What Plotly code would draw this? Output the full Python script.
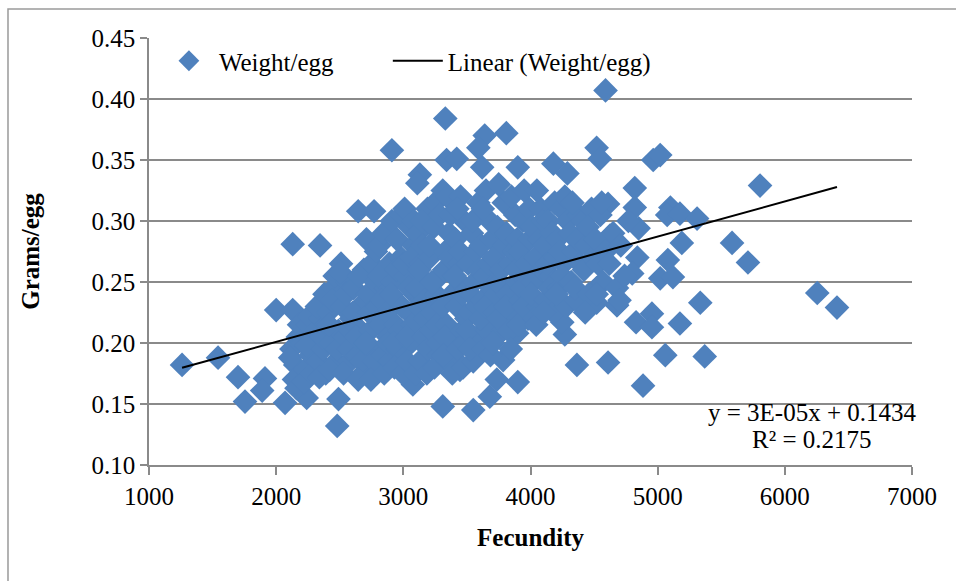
import plotly.graph_objects as go

# ---- data (Fecundity, Grams/egg) ----
outlier_x = [1260, 1543, 1700, 1755, 1912, 1890, 2070, 2000, 2130, 2480, 2490, 2240,
             2130, 2345, 2910, 2645, 2770, 3330, 3640, 3810, 3590, 3340, 3420, 3620,
             3900, 4520, 4545, 4180, 4290, 3130, 3110, 4590, 4965, 5020, 5805, 4820,
             4610, 4820, 5100, 5075, 5175, 5310, 4850, 4625, 5190, 5585, 5710, 4840,
             5080, 5020, 5120, 4800, 6255, 6410, 5335, 4955, 5175, 4830, 4955, 5060,
             5370, 4610, 4885, 4680, 4365, 3310, 3550, 3680, 3735, 3900, 3785, 3580,
             3075, 3445, 3895, 4270, 4250, 4520, 4680, 4520]
outlier_y = [0.182, 0.188, 0.172, 0.152, 0.171, 0.161, 0.151, 0.227, 0.227, 0.132, 0.154, 0.155,
             0.281, 0.280, 0.358, 0.308, 0.308, 0.384, 0.370, 0.372, 0.360, 0.350, 0.351, 0.344,
             0.344, 0.360, 0.351, 0.347, 0.339, 0.338, 0.331, 0.407, 0.350, 0.354, 0.329, 0.327,
             0.314, 0.311, 0.311, 0.305, 0.306, 0.302, 0.294, 0.288, 0.282, 0.282, 0.266, 0.270,
             0.268, 0.253, 0.254, 0.257, 0.241, 0.229, 0.233, 0.224, 0.216, 0.217, 0.213, 0.190,
             0.189, 0.184, 0.165, 0.231, 0.182, 0.148, 0.145, 0.156, 0.170, 0.168, 0.186, 0.193,
             0.166, 0.178, 0.208, 0.207, 0.217, 0.233, 0.231, 0.245]

cloud_x = [2120, 2150, 2170, 2140, 2180, 2110, 2160,
           2210, 2230, 2250, 2270, 2290, 2220, 2260, 2280, 2240,
           2310, 2330, 2350, 2370, 2390, 2320, 2360, 2380, 2340, 2395,
           2410, 2430, 2450, 2470, 2490, 2420, 2440, 2460, 2480, 2415,
           2510, 2520, 2540, 2560, 2580, 2590, 2530, 2550, 2570, 2505, 2585,
           2610, 2620, 2640, 2660, 2680, 2690, 2630, 2650, 2670, 2605, 2695, 2645,
           2710, 2720, 2740, 2760, 2780, 2790, 2730, 2750, 2770, 2705, 2795, 2745, 2785,
           2810, 2820, 2840, 2860, 2880, 2890, 2830, 2850, 2870, 2805, 2895, 2845, 2875,
           2910, 2920, 2940, 2960, 2980, 2990, 2930, 2950, 2970, 2905, 2995, 2945, 2985, 2925,
           3010, 3020, 3040, 3060, 3080, 3090, 3030, 3050, 3070, 3005, 3095, 3045, 3085, 3025, 3065,
           3110, 3120, 3140, 3160, 3180, 3190, 3130, 3150, 3170, 3105, 3195, 3145, 3185, 3125, 3165,
           3210, 3220, 3240, 3260, 3280, 3290, 3230, 3250, 3270, 3205, 3295, 3245, 3285, 3225, 3265,
           3310, 3320, 3340, 3360, 3380, 3390, 3330, 3350, 3370, 3305, 3395, 3345, 3385, 3325, 3365, 3315,
           3410, 3420, 3440, 3460, 3480, 3490, 3430, 3450, 3470, 3405, 3495, 3445, 3485, 3425, 3465,
           3510, 3520, 3540, 3560, 3580, 3590, 3530, 3550, 3570, 3505, 3595, 3545, 3585, 3525,
           3610, 3620, 3640, 3660, 3680, 3690, 3630, 3650, 3670, 3605, 3695, 3645, 3685, 3625,
           3710, 3720, 3740, 3760, 3780, 3790, 3730, 3750, 3770, 3705, 3795, 3745, 3785,
           3810, 3820, 3840, 3860, 3880, 3890, 3830, 3850, 3870, 3805, 3895, 3845, 3885,
           3910, 3920, 3940, 3960, 3980, 3990, 3930, 3950, 3970, 3905, 3995, 3945,
           4010, 4020, 4040, 4060, 4080, 4090, 4030, 4050, 4070, 4005, 4095, 4045,
           4110, 4120, 4140, 4160, 4180, 4190, 4130, 4150, 4170, 4105, 4195,
           4210, 4220, 4240, 4260, 4280, 4290, 4230, 4250, 4270, 4205,
           4310, 4320, 4340, 4360, 4380, 4390, 4330, 4350, 4370,
           4410, 4420, 4440, 4460, 4480, 4490, 4430, 4450,
           4510, 4530, 4550, 4570, 4590, 4520, 4560,
           4620, 4650, 4680, 4710, 4740, 4770, 4700]
cloud_y = [0.195, 0.182, 0.205, 0.170, 0.215, 0.188, 0.163,
           0.200, 0.178, 0.215, 0.190, 0.205, 0.168, 0.222, 0.175, 0.198,
           0.210, 0.185, 0.220, 0.195, 0.175, 0.230, 0.205, 0.240, 0.172, 0.215,
           0.225, 0.200, 0.245, 0.185, 0.210, 0.178, 0.235, 0.255, 0.195, 0.215,
           0.265, 0.230, 0.205, 0.250, 0.185, 0.220, 0.175, 0.240, 0.195, 0.258, 0.210,
           0.245, 0.215, 0.190, 0.230, 0.175, 0.260, 0.205, 0.255, 0.185, 0.225, 0.200, 0.170,
           0.285, 0.240, 0.210, 0.195, 0.250, 0.175, 0.225, 0.265, 0.185, 0.200, 0.230, 0.170, 0.275,
           0.280, 0.215, 0.190, 0.245, 0.205, 0.265, 0.235, 0.175, 0.225, 0.255, 0.185, 0.290, 0.200,
           0.300, 0.250, 0.215, 0.195, 0.270, 0.230, 0.180, 0.285, 0.210, 0.240, 0.175, 0.260, 0.305, 0.200,
           0.310, 0.255, 0.225, 0.200, 0.280, 0.240, 0.185, 0.295, 0.215, 0.265, 0.175, 0.245, 0.300, 0.205, 0.270,
           0.290, 0.230, 0.265, 0.205, 0.250, 0.310, 0.185, 0.280, 0.220, 0.245, 0.195, 0.300, 0.175, 0.260, 0.235,
           0.270, 0.210, 0.295, 0.240, 0.190, 0.255, 0.225, 0.315, 0.200, 0.280, 0.235, 0.180, 0.305, 0.250, 0.215,
           0.325, 0.260, 0.215, 0.290, 0.240, 0.200, 0.275, 0.185, 0.305, 0.230, 0.255, 0.320, 0.175, 0.205, 0.270, 0.190,
           0.285, 0.230, 0.265, 0.210, 0.300, 0.245, 0.195, 0.320, 0.180, 0.255, 0.220, 0.275, 0.200, 0.310, 0.240,
           0.265, 0.225, 0.290, 0.250, 0.205, 0.315, 0.240, 0.185, 0.275, 0.210, 0.260, 0.300, 0.230, 0.195,
           0.280, 0.235, 0.255, 0.210, 0.300, 0.245, 0.195, 0.325, 0.265, 0.220, 0.285, 0.230, 0.190, 0.310,
           0.270, 0.225, 0.295, 0.250, 0.210, 0.315, 0.240, 0.330, 0.260, 0.200, 0.280, 0.220, 0.245,
           0.290, 0.240, 0.265, 0.225, 0.305, 0.250, 0.210, 0.320, 0.275, 0.230, 0.285, 0.195, 0.260,
           0.275, 0.235, 0.300, 0.255, 0.220, 0.310, 0.245, 0.325, 0.265, 0.215, 0.285, 0.230,
           0.295, 0.250, 0.270, 0.230, 0.310, 0.260, 0.220, 0.325, 0.285, 0.240, 0.300, 0.215,
           0.280, 0.235, 0.300, 0.255, 0.225, 0.315, 0.265, 0.245, 0.290, 0.225, 0.270,
           0.285, 0.245, 0.310, 0.265, 0.230, 0.300, 0.275, 0.255, 0.320, 0.240,
           0.290, 0.250, 0.275, 0.235, 0.305, 0.265, 0.315, 0.245, 0.285,
           0.300, 0.260, 0.280, 0.240, 0.310, 0.270, 0.225, 0.295,
           0.285, 0.265, 0.305, 0.250, 0.275, 0.240, 0.315,
           0.265, 0.290, 0.245, 0.280, 0.255, 0.300, 0.235]

fecundity = outlier_x + cloud_x
weight = outlier_y + cloud_y

# trendline as shown on the chart (y = 3E-05x + 0.1434, R² = 0.2175)
trend_slope = 2.877e-5
trend_intercept = 0.1434
trend_x = [min(fecundity), max(fecundity)]
trend_y = [trend_slope * v + trend_intercept for v in trend_x]

x_ticks = [1000, 2000, 3000, 4000, 5000, 6000, 7000]
y_ticks = [0.10, 0.15, 0.20, 0.25, 0.30, 0.35, 0.40, 0.45]

FONT = "Liberation Serif"
GRID = "#8a8a8a"
BLUE = "#4F81BD"

fig = go.Figure()
fig.add_trace(go.Scatter(
    x=fecundity, y=weight, mode="markers", name="Weight/egg", legend="legend",
    marker=dict(symbol="diamond", size=19, color=BLUE, line=dict(width=0)),
))
fig.add_trace(go.Scatter(
    x=trend_x, y=trend_y, mode="lines", name="Linear (Weight/egg)", legend="legend2",
    line=dict(color="black", width=2),
))

fig.add_annotation(x=6214, y=0.1434, xref="x", yref="y", text="y = 3E-05x + 0.1434",
                   showarrow=False, font=dict(family=FONT, size=25, color="black"))
fig.add_annotation(x=6214, y=0.1213, xref="x", yref="y", text="R² = 0.2175",
                   showarrow=False, font=dict(family=FONT, size=25, color="black"))

# chart-area border
fig.add_shape(type="rect", xref="paper", yref="paper",
              x0=-0.1848, x1=1.07, y0=-0.4, y1=1.0679,
              line=dict(color="#9a9a9a", width=1.5), layer="below")

legend_common = dict(orientation="h", y=1.0, xanchor="left", yanchor="top",
                     bgcolor="rgba(0,0,0,0)", font=dict(family=FONT, size=25),
                     itemwidth=50)

fig.update_layout(
    width=956, height=581,
    margin=dict(l=149, r=44, t=38, b=116),
    paper_bgcolor="white", plot_bgcolor="white",
    font=dict(family=FONT, size=25, color="black"),
    showlegend=True,
    legend=dict(x=0.013, **legend_common),
    legend2=dict(x=0.313, **legend_common),
    xaxis=dict(range=[1000, 7000], tickvals=x_ticks, ticks="outside", ticklen=8,
               tickcolor=GRID, tickwidth=1.5, showgrid=False, zeroline=False,
               showline=True, linecolor=GRID, linewidth=1.5,
               title=dict(text="<b>Fecundity</b>", font=dict(family=FONT, size=25), standoff=20)),
    yaxis=dict(range=[0.10, 0.45], tickvals=y_ticks, tickformat=".2f", ticks="outside",
               ticklen=7, tickcolor=GRID, tickwidth=1.5, showgrid=True, gridcolor=GRID,
               gridwidth=1.5, zeroline=False, showline=True, linecolor=GRID, linewidth=1.5,
               title=dict(text="<b>Grams/egg</b>", font=dict(family=FONT, size=25), standoff=45)),
)

fig.write_html("out.html")
